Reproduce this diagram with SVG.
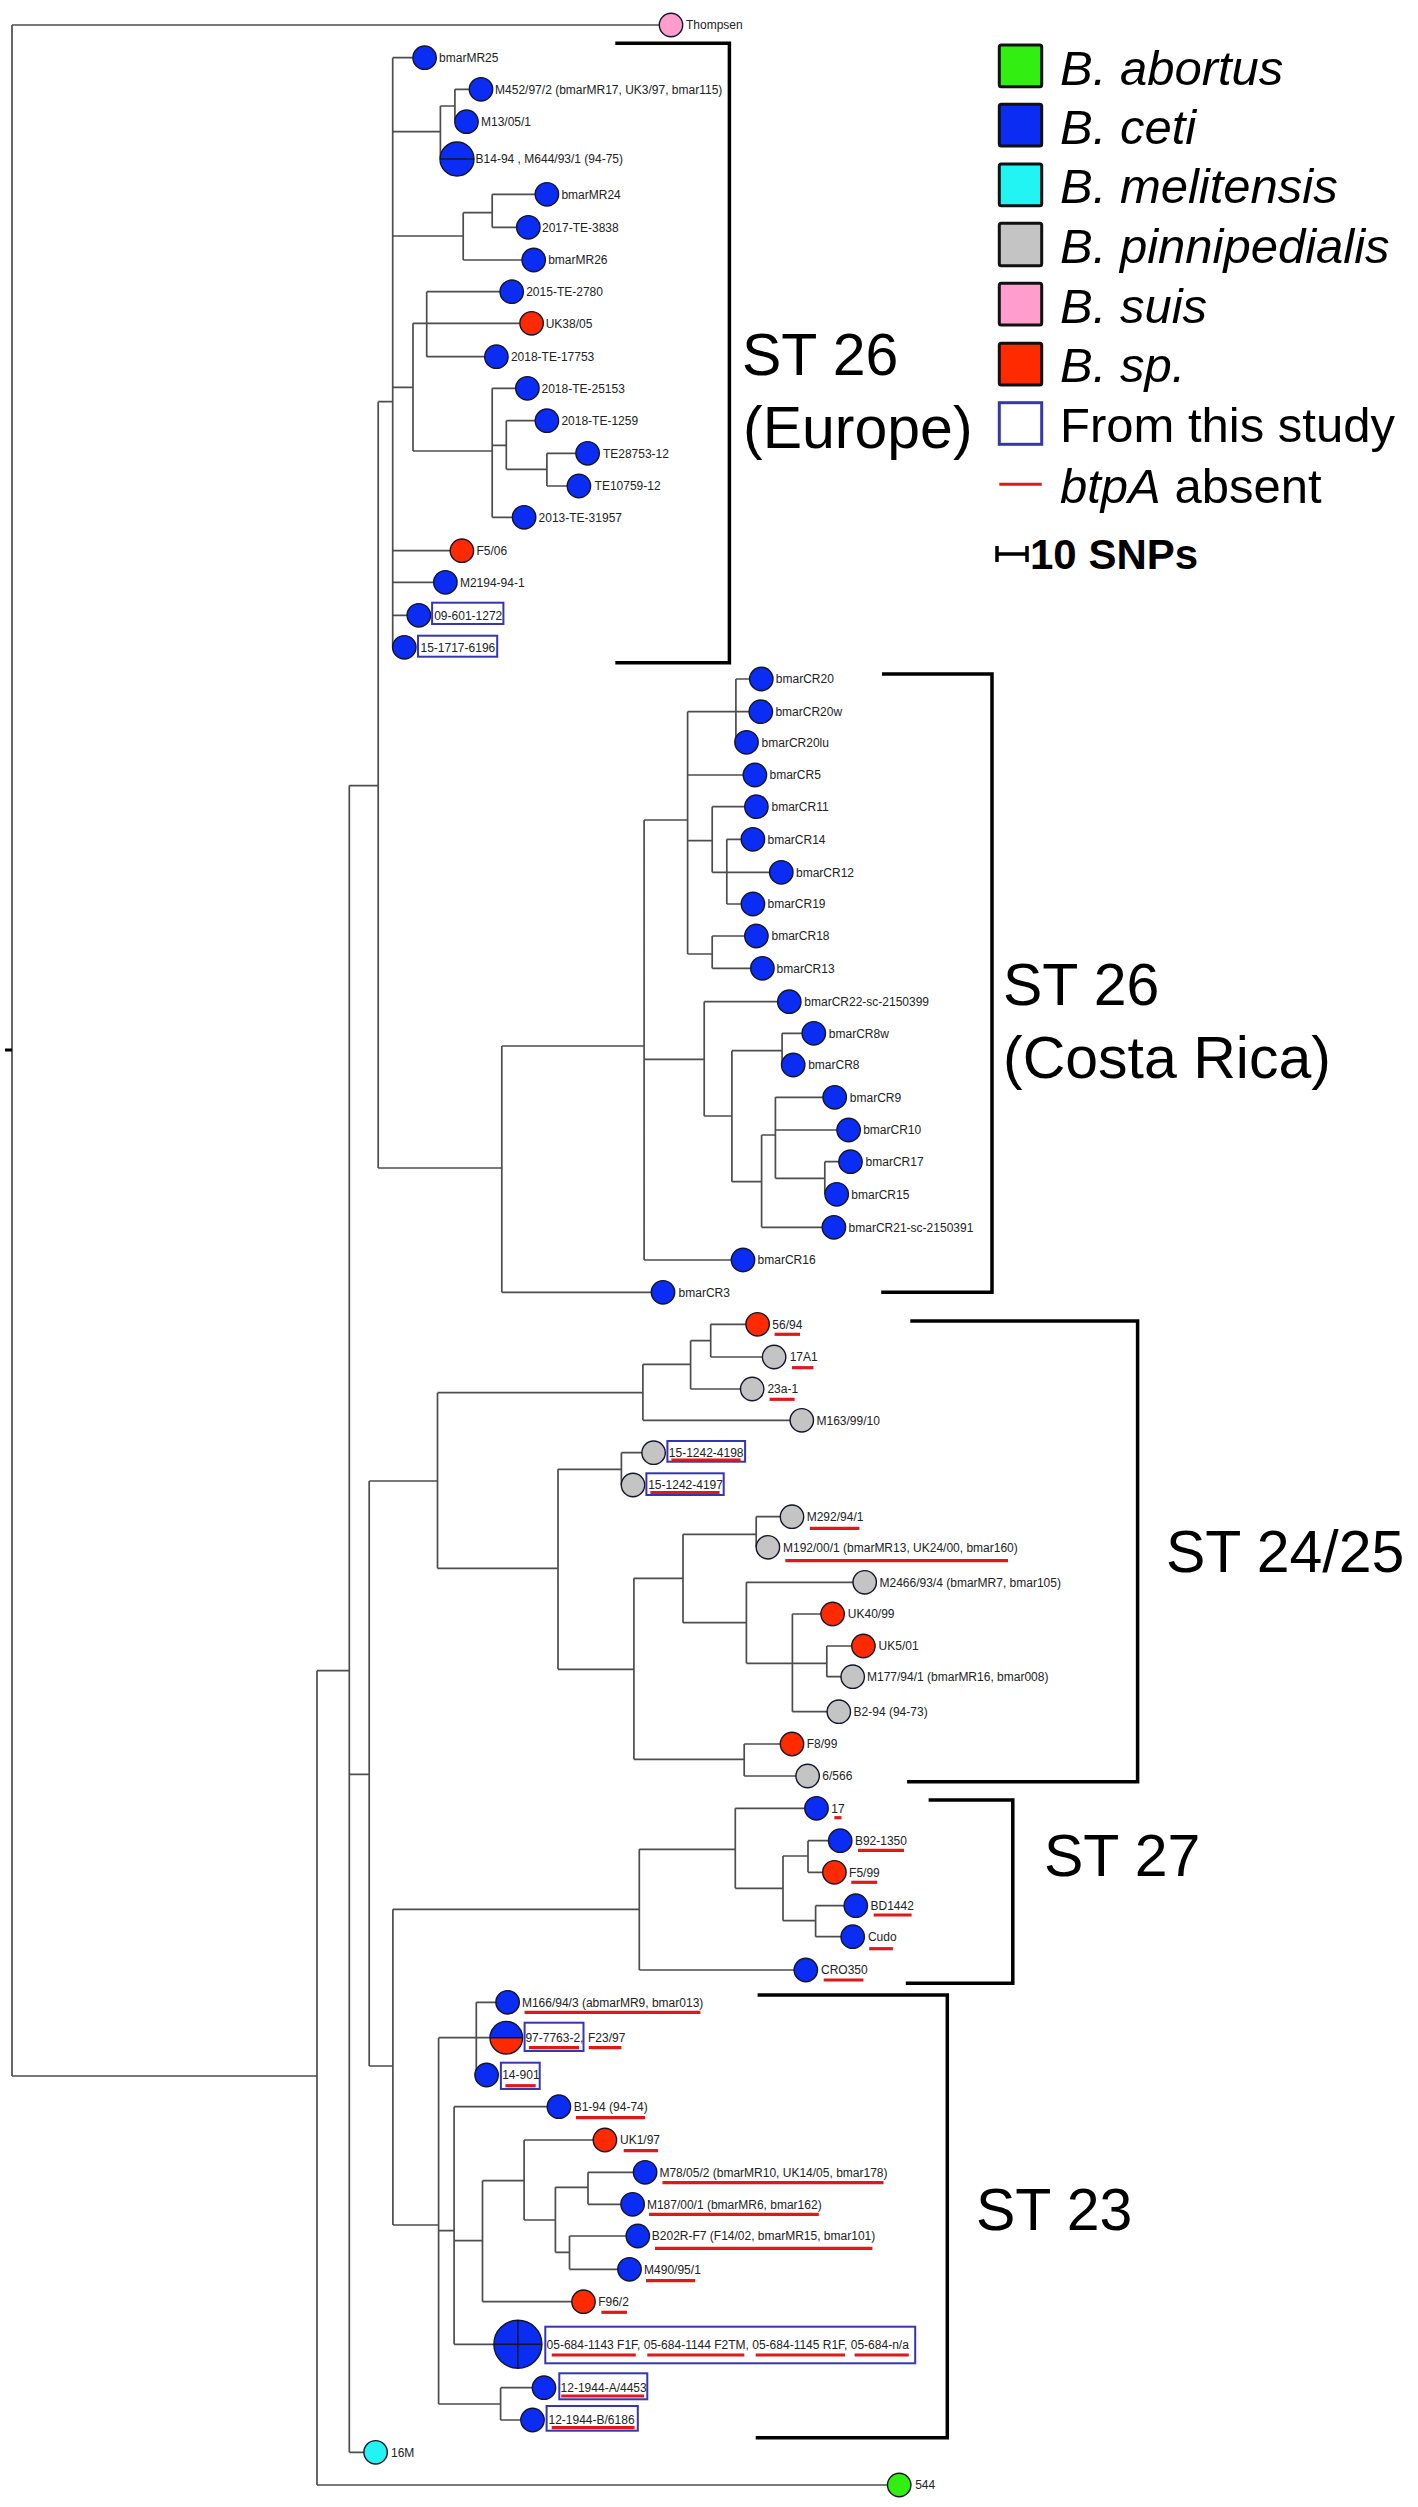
<svg xmlns="http://www.w3.org/2000/svg" width="1418" height="2507" viewBox="0 0 1418 2507">
<style>
.br{stroke:#4d4d4d;stroke-width:1.7;fill:none}
.nd{stroke:#15152a;stroke-width:1.4}
.ceti{fill:#0b2cf2}.sp{fill:#ff2a00}.pin{fill:#c4c4c4}.suis{fill:#ff9dcc}.mel{fill:#22f4f4}.abo{fill:#33ee11}
.lb{font-family:"Liberation Sans",Arial,sans-serif;font-size:12px;fill:#222}
.ul{stroke:#e01818;stroke-width:3.2}
.bx{fill:none;stroke:#3636b0;stroke-width:2}
.bk{stroke:#000;stroke-width:3.5;fill:none}
.st{font-family:"Liberation Sans",Arial,sans-serif;font-size:59px;fill:#000}
.lg{font-family:"Liberation Sans",Arial,sans-serif;font-size:49px;fill:#000}
.lbox{stroke:#111;stroke-width:3}
.dv{stroke:#15152a;stroke-width:1.4;fill:none}
</style>
<rect width="1418" height="2507" fill="#fff"/>
<g id="connectors">
<path class="br" d="M12,25 H671 M12,25 V2076 M12,2076 H317 M317,1670.7 V2485 M317,2485 H899 M317,1670.7 H349.3 M349.3,785.6 V2452.3 M349.3,2452.3 H375.6 M349.3,785.6 H378.2 M378.2,401.7 V1168 M378.2,401.7 H392.7 M392.7,57.7 V647.3"/>
<path d="M5,1050 H12" style="stroke:#000;stroke-width:3"/>
<path class="br" d="M392.7,57.7 H424.6 M392.7,131.7 H440.4 M440.4,106 V159 M440.4,106 H454.9 M454.9,89.3 V121.7 M454.9,89.3 H481 M454.9,121.7 H466.5 M440.4,159 H457 M392.7,236 H463.2 M463.2,212.7 V260 M463.2,212.7 H492.2 M492.2,194.3 V227.3 M492.2,194.3 H546.9 M492.2,227.3 H528.3 M463.2,260 H533.7 M392.7,387.3 H413 M413,323.3 V451 M413,323.3 H531.6 M426.7,291.7 V356.7 M426.7,291.7 H511.7 M426.7,356.7 H496.4 M413,451 H492.2 M492.2,388.3 V517.3 M492.2,388.3 H527.4 M492.2,445.3 H506.3 M506.3,420.7 V469.3 M506.3,420.7 H546.9 M506.3,469.3 H546.9 M546.9,453.3 V486 M546.9,453.3 H587.6 M546.9,486 H578.9 M492.2,517.3 H524.1 M392.7,550.7 H461.9 M392.7,582.3 H445.4 M392.7,615.3 H418.8 M392.7,647.3 H404.3"/>
<path class="br" d="M378.2,1168 H501.8 M501.8,1046 V1292.3 M501.8,1292.3 H663 M501.8,1046 H644.1 M644.1,820 V1260 M644.1,1260 H743 M644.1,820 H687.6 M687.6,711.7 V954 M687.6,711.7 H760.8 M735.9,679 V742.3 M735.9,679 H761.3 M735.9,742.3 H746.5 M687.6,775 H754.9 M687.6,840.7 H712.2 M712.2,806.7 V872.3 M712.2,806.7 H756.4 M712.2,872.3 H781.3 M726.8,839.3 V904 M726.8,839.3 H752.9 M726.8,904 H752.9 M687.6,954 H712.2 M712.2,936 V968.3 M712.2,936 H756.4 M712.2,968.3 H762.4 M644.1,1059.3 H704.2 M704.2,1001.7 V1116 M704.2,1001.7 H789.3 M704.2,1116 H731.9 M731.9,1050.7 V1181.7 M731.9,1050.7 H782.1 M782.1,1033.3 V1065 M782.1,1033.3 H813.8 M782.1,1065 H793.2 M731.9,1181.7 H761.6 M761.6,1135 V1227.3 M761.6,1135 H775.4 M775.4,1097.3 V1178.3 M775.4,1097.3 H834.7 M775.4,1130 H848.6 M775.4,1178.3 H824.8 M824.8,1161.7 V1194.3 M824.8,1161.7 H850.5 M824.8,1194.3 H836.7 M761.6,1227.3 H833.9"/>
<path class="br" d="M349.3,1774.3 H369.2 M369.2,1481 V2066 M369.2,1481 H437.5 M437.5,1392.7 V1568.3 M437.5,1392.7 H642.9 M642.9,1364.3 V1420.3 M642.9,1364.3 H690.6 M690.6,1340.7 V1389 M690.6,1340.7 H710.7 M710.7,1324.3 V1357 M710.7,1324.3 H757.6 M710.7,1357 H774.1 M690.6,1389 H752.2 M642.9,1420.3 H801.8 M437.5,1568.3 H558 M558,1469.3 V1669.3 M558,1469.3 H621.4 M621.4,1452.7 V1485 M621.4,1452.7 H653.6 M621.4,1485 H633 M558,1669.3 H633.9 M633.9,1578.3 V1759.3 M633.9,1578.3 H683 M683,1534.3 V1622.7 M683,1534.3 H756.2 M756.2,1516.7 V1547.3 M756.2,1516.7 H792 M756.2,1547.3 H767.9 M683,1622.7 H746.4 M746.4,1582.3 V1663.3 M746.4,1582.3 H864.7 M746.4,1663.3 H826.8 M792.4,1614 V1711.7 M792.4,1614 H832.6 M826.8,1646 V1676.7 M826.8,1646 H863.4 M826.8,1676.7 H852.7 M792.4,1711.7 H838.8 M633.9,1759.3 H744.2 M744.2,1744 V1776 M744.2,1744 H792 M744.2,1776 H807.6"/>
<path class="br" d="M369.2,2066 H392.9 M392.9,1909.3 V2225 M392.9,1909.3 H639.3 M639.3,1849.3 V1970 M639.3,1849.3 H735.3 M735.3,1808.3 V1888.3 M735.3,1808.3 H816.5 M735.3,1888.3 H783 M783,1856 V1920.7 M783,1856 H808 M808,1840.7 V1872.3 M808,1840.7 H840.2 M808,1872.3 H834.4 M783,1920.7 H815.6 M815.6,1905.7 V1936.7 M815.6,1905.7 H855.8 M815.6,1936.7 H852.7 M639.3,1970 H805.8 M392.9,2225 H438.6 M438.6,2037.7 V2404 M438.6,2037.7 H476.3 M476.3,2002.3 V2075 M476.3,2002.3 H507.6 M476.3,2037.7 H506.3 M476.3,2075 H486.6 M438.6,2230.7 H454.1 M454.1,2106.7 V2344.3 M454.1,2106.7 H558.9 M454.1,2240.7 H482.5 M482.5,2180.7 V2301.7 M482.5,2180.7 H524.1 M524.1,2140 V2220 M524.1,2140 H604.9 M524.1,2220 H555.4 M555.4,2187.3 V2252.3 M555.4,2187.3 H588 M588,2172.3 V2204.3 M588,2172.3 H645.1 M588,2204.3 H632.6 M555.4,2252.3 H569.5 M569.5,2236 V2269.3 M569.5,2236 H637.8 M569.5,2269.3 H629.5 M482.5,2301.7 H583.5 M454.1,2344.3 H517.9 M438.6,2404 H500.6 M500.6,2387.7 V2420 M500.6,2387.7 H544 M500.6,2420 H532.5"/>
</g>
<g id="n-thompsen"><circle class="nd suis" cx="671" cy="25" r="11.7"/><text class="lb" x="686" y="29.3">Thompsen</text></g>
<g id="n-bmarMR25"><circle class="nd ceti" cx="424.6" cy="57.7" r="11.7"/><text class="lb" x="439.1" y="62">bmarMR25</text></g>
<g id="n-M452"><circle class="nd ceti" cx="481" cy="89.3" r="11.7"/><text class="lb" x="495.1" y="93.6">M452/97/2 (bmarMR17, UK3/97, bmar115)</text></g>
<g id="n-M13"><circle class="nd ceti" cx="466.5" cy="121.7" r="11.7"/><text class="lb" x="481" y="126">M13/05/1</text></g>
<g id="n-B14"><circle class="nd ceti" cx="457" cy="159" r="17"/><path class="dv" d="M440,159 H474"/><text class="lb" x="475.6" y="163.3">B14-94 , M644/93/1 (94-75)</text></g>
<g id="n-bmarMR24"><circle class="nd ceti" cx="546.9" cy="194.3" r="11.7"/><text class="lb" x="561.4" y="198.6">bmarMR24</text></g>
<g id="n-2017TE3838"><circle class="nd ceti" cx="528.3" cy="227.3" r="11.7"/><text class="lb" x="542" y="231.6">2017-TE-3838</text></g>
<g id="n-bmarMR26"><circle class="nd ceti" cx="533.7" cy="260" r="11.7"/><text class="lb" x="548.2" y="264.3">bmarMR26</text></g>
<g id="n-2015TE2780"><circle class="nd ceti" cx="511.7" cy="291.7" r="11.7"/><text class="lb" x="526.2" y="296">2015-TE-2780</text></g>
<g id="n-UK3805"><circle class="nd sp" cx="531.6" cy="323.3" r="11.7"/><text class="lb" x="545.7" y="327.6">UK38/05</text></g>
<g id="n-2018TE17753"><circle class="nd ceti" cx="496.4" cy="356.7" r="11.7"/><text class="lb" x="510.9" y="361">2018-TE-17753</text></g>
<g id="n-2018TE25153"><circle class="nd ceti" cx="527.4" cy="388.3" r="11.7"/><text class="lb" x="541.5" y="392.6">2018-TE-25153</text></g>
<g id="n-2018TE1259"><circle class="nd ceti" cx="546.9" cy="420.7" r="11.7"/><text class="lb" x="561.4" y="425">2018-TE-1259</text></g>
<g id="n-TE28753"><circle class="nd ceti" cx="587.6" cy="453.3" r="11.7"/><text class="lb" x="602.9" y="457.6">TE28753-12</text></g>
<g id="n-TE10759"><circle class="nd ceti" cx="578.9" cy="486" r="11.7"/><text class="lb" x="594.6" y="490.3">TE10759-12</text></g>
<g id="n-2013TE31957"><circle class="nd ceti" cx="524.1" cy="517.3" r="11.7"/><text class="lb" x="538.6" y="521.6">2013-TE-31957</text></g>
<g id="n-F506"><circle class="nd sp" cx="461.9" cy="550.7" r="11.7"/><text class="lb" x="476.5" y="555">F5/06</text></g>
<g id="n-M2194"><circle class="nd ceti" cx="445.4" cy="582.3" r="11.7"/><text class="lb" x="459.9" y="586.6">M2194-94-1</text></g>
<g id="n-09601"><circle class="nd ceti" cx="418.8" cy="615.3" r="11.7"/><rect class="bx" x="432.1" y="602.7" width="71.3" height="21.3"/><text class="lb" x="434.2" y="619.6">09-601-1272</text></g>
<g id="n-151717"><circle class="nd ceti" cx="404.3" cy="647.3" r="11.7"/><rect class="bx" x="418" y="635.7" width="79.2" height="21"/><text class="lb" x="420.5" y="651.6">15-1717-6196</text></g>
<g id="n-CR20"><circle class="nd ceti" cx="761.3" cy="679" r="11.7"/><text class="lb" x="775.8" y="683.3">bmarCR20</text></g>
<g id="n-CR20w"><circle class="nd ceti" cx="760.8" cy="711.7" r="11.7"/><text class="lb" x="775.4" y="716">bmarCR20w</text></g>
<g id="n-CR20lu"><circle class="nd ceti" cx="746.5" cy="742.3" r="11.7"/><text class="lb" x="761.6" y="746.6">bmarCR20lu</text></g>
<g id="n-CR5"><circle class="nd ceti" cx="754.9" cy="775" r="11.7"/><text class="lb" x="769.5" y="779.3">bmarCR5</text></g>
<g id="n-CR11"><circle class="nd ceti" cx="756.4" cy="806.7" r="11.7"/><text class="lb" x="771.5" y="811">bmarCR11</text></g>
<g id="n-CR14"><circle class="nd ceti" cx="752.9" cy="839.3" r="11.7"/><text class="lb" x="767.5" y="843.6">bmarCR14</text></g>
<g id="n-CR12"><circle class="nd ceti" cx="781.3" cy="872.3" r="11.7"/><text class="lb" x="796" y="876.6">bmarCR12</text></g>
<g id="n-CR19"><circle class="nd ceti" cx="752.9" cy="904" r="11.7"/><text class="lb" x="767.5" y="908.3">bmarCR19</text></g>
<g id="n-CR18"><circle class="nd ceti" cx="756.4" cy="936" r="11.7"/><text class="lb" x="771.5" y="940.3">bmarCR18</text></g>
<g id="n-CR13"><circle class="nd ceti" cx="762.4" cy="968.3" r="11.7"/><text class="lb" x="776.6" y="972.6">bmarCR13</text></g>
<g id="n-CR22"><circle class="nd ceti" cx="789.3" cy="1001.7" r="11.7"/><text class="lb" x="804.3" y="1006">bmarCR22-sc-2150399</text></g>
<g id="n-CR8w"><circle class="nd ceti" cx="813.8" cy="1033.3" r="11.7"/><text class="lb" x="828.8" y="1037.6">bmarCR8w</text></g>
<g id="n-CR8"><circle class="nd ceti" cx="793.2" cy="1065" r="11.7"/><text class="lb" x="808.2" y="1069.3">bmarCR8</text></g>
<g id="n-CR9"><circle class="nd ceti" cx="834.7" cy="1097.3" r="11.7"/><text class="lb" x="849.8" y="1101.6">bmarCR9</text></g>
<g id="n-CR10"><circle class="nd ceti" cx="848.6" cy="1130" r="11.7"/><text class="lb" x="863.2" y="1134.3">bmarCR10</text></g>
<g id="n-CR17"><circle class="nd ceti" cx="850.5" cy="1161.7" r="11.7"/><text class="lb" x="865.6" y="1166">bmarCR17</text></g>
<g id="n-CR15"><circle class="nd ceti" cx="836.7" cy="1194.3" r="11.7"/><text class="lb" x="851.3" y="1198.6">bmarCR15</text></g>
<g id="n-CR21"><circle class="nd ceti" cx="833.9" cy="1227.3" r="11.7"/><text class="lb" x="848.6" y="1231.6">bmarCR21-sc-2150391</text></g>
<g id="n-CR16"><circle class="nd ceti" cx="743" cy="1260" r="11.7"/><text class="lb" x="757.6" y="1264.3">bmarCR16</text></g>
<g id="n-CR3"><circle class="nd ceti" cx="663" cy="1292.3" r="11.7"/><text class="lb" x="678.6" y="1296.6">bmarCR3</text></g>
<g id="n-5694"><circle class="nd sp" cx="757.6" cy="1324.3" r="11.7"/><text class="lb" x="772.3" y="1328.6">56/94</text><line class="ul" x1="774.6" y1="1334.3" x2="800" y2="1334.3"/></g>
<g id="n-17A1"><circle class="nd pin" cx="774.1" cy="1357" r="11.7"/><text class="lb" x="789.7" y="1361.3">17A1</text><line class="ul" x1="792" y1="1367.7" x2="813.4" y2="1367.7"/></g>
<g id="n-23a1"><circle class="nd pin" cx="752.2" cy="1389" r="11.7"/><text class="lb" x="767.4" y="1393.3">23a-1</text><line class="ul" x1="769.6" y1="1399.3" x2="794.6" y2="1399.3"/></g>
<g id="n-M163"><circle class="nd pin" cx="801.8" cy="1420.3" r="11.7"/><text class="lb" x="816.5" y="1424.6">M163/99/10</text></g>
<g id="n-4198"><circle class="nd pin" cx="653.6" cy="1452.7" r="11.7"/><rect class="bx" x="667.4" y="1441" width="77.7" height="20.7"/><text class="lb" x="668.8" y="1457">15-1242-4198</text><line class="ul" x1="671.4" y1="1460" x2="740.6" y2="1460"/></g>
<g id="n-4197"><circle class="nd pin" cx="633" cy="1485" r="11.7"/><rect class="bx" x="646.4" y="1473.3" width="77.3" height="21.7"/><text class="lb" x="648.2" y="1489.3">15-1242-4197</text><line class="ul" x1="650.4" y1="1492.5" x2="719.6" y2="1492.5"/></g>
<g id="n-M292"><circle class="nd pin" cx="792" cy="1516.7" r="11.7"/><text class="lb" x="806.7" y="1521">M292/94/1</text><line class="ul" x1="809.8" y1="1528.3" x2="859.4" y2="1528.3"/></g>
<g id="n-M192"><circle class="nd pin" cx="767.9" cy="1547.3" r="11.7"/><text class="lb" x="783" y="1551.6">M192/00/1 (bmarMR13, UK24/00, bmar160)</text><line class="ul" x1="785.3" y1="1560.7" x2="1008" y2="1560.7"/></g>
<g id="n-M2466"><circle class="nd pin" cx="864.7" cy="1582.3" r="11.7"/><text class="lb" x="879.5" y="1586.6">M2466/93/4 (bmarMR7, bmar105)</text></g>
<g id="n-UK4099"><circle class="nd sp" cx="832.6" cy="1614" r="11.7"/><text class="lb" x="847.8" y="1618.3">UK40/99</text></g>
<g id="n-UK501"><circle class="nd sp" cx="863.4" cy="1646" r="11.7"/><text class="lb" x="878.6" y="1650.3">UK5/01</text></g>
<g id="n-M177"><circle class="nd pin" cx="852.7" cy="1676.7" r="11.7"/><text class="lb" x="867" y="1681">M177/94/1 (bmarMR16, bmar008)</text></g>
<g id="n-B294"><circle class="nd pin" cx="838.8" cy="1711.7" r="11.7"/><text class="lb" x="853.6" y="1716">B2-94 (94-73)</text></g>
<g id="n-F899"><circle class="nd sp" cx="792" cy="1744" r="11.7"/><text class="lb" x="806.7" y="1748.3">F8/99</text></g>
<g id="n-6566"><circle class="nd pin" cx="807.6" cy="1776" r="11.7"/><text class="lb" x="822.3" y="1780.3">6/566</text></g>
<g id="n-17"><circle class="nd ceti" cx="816.5" cy="1808.3" r="11.7"/><text class="lb" x="831.3" y="1812.6">17</text><line class="ul" x1="834.4" y1="1817.7" x2="841.5" y2="1817.7"/></g>
<g id="n-B921350"><circle class="nd ceti" cx="840.2" cy="1840.7" r="11.7"/><text class="lb" x="854.9" y="1845">B92-1350</text><line class="ul" x1="858" y1="1850.3" x2="904" y2="1850.3"/></g>
<g id="n-F599"><circle class="nd sp" cx="834.4" cy="1872.3" r="11.7"/><text class="lb" x="849.1" y="1876.6">F5/99</text><line class="ul" x1="851.3" y1="1882.3" x2="877.2" y2="1882.3"/></g>
<g id="n-BD1442"><circle class="nd ceti" cx="855.8" cy="1905.7" r="11.7"/><text class="lb" x="870.5" y="1910">BD1442</text><line class="ul" x1="873.7" y1="1915" x2="911.6" y2="1915"/></g>
<g id="n-Cudo"><circle class="nd ceti" cx="852.7" cy="1936.7" r="11.7"/><text class="lb" x="867.9" y="1941">Cudo</text><line class="ul" x1="869.2" y1="1948.7" x2="892.9" y2="1948.7"/></g>
<g id="n-CRO350"><circle class="nd ceti" cx="805.8" cy="1970" r="11.7"/><text class="lb" x="821" y="1974.3">CRO350</text><line class="ul" x1="823.7" y1="1980" x2="863.4" y2="1980"/></g>
<g id="n-M166"><circle class="nd ceti" cx="507.6" cy="2002.3" r="11.7"/><text class="lb" x="521.9" y="2006.6">M166/94/3 (abmarMR9, bmar013)</text><line class="ul" x1="524.6" y1="2012.3" x2="700.4" y2="2012.3"/></g>
<g id="n-977763"><path class="ceti" d="M490,2037.7 A16.3,16.3 0 0 1 522.6,2037.7 Z"/><path class="sp" d="M490,2037.7 A16.3,16.3 0 0 0 522.6,2037.7 Z"/><circle class="dv" cx="506.3" cy="2037.7" r="16.3"/><path class="dv" d="M490,2037.7 H522.6"/><rect class="bx" x="524.6" y="2022.7" width="58.9" height="28.3"/><text class="lb" x="525.4" y="2042">97-7763-2,</text><text class="lb" x="588" y="2042">F23/97</text><line class="ul" x1="529" y1="2047.7" x2="579" y2="2047.7"/><line class="ul" x1="588.8" y1="2047.7" x2="621.4" y2="2047.7"/></g>
<g id="n-14901"><circle class="nd ceti" cx="486.6" cy="2075" r="11.7"/><rect class="bx" x="500.9" y="2062.7" width="38.8" height="26.3"/><text class="lb" x="502.2" y="2079.3">14-901</text><line class="ul" x1="505.4" y1="2085.7" x2="535.7" y2="2085.7"/></g>
<g id="n-B194"><circle class="nd ceti" cx="558.9" cy="2106.7" r="11.7"/><text class="lb" x="573.7" y="2111">B1-94 (94-74)</text><line class="ul" x1="575.9" y1="2117.7" x2="645.1" y2="2117.7"/></g>
<g id="n-UK197"><circle class="nd sp" cx="604.9" cy="2140" r="11.7"/><text class="lb" x="620" y="2144.3">UK1/97</text><line class="ul" x1="623.7" y1="2150.7" x2="658" y2="2150.7"/></g>
<g id="n-M78"><circle class="nd ceti" cx="645.1" cy="2172.3" r="11.7"/><text class="lb" x="659.4" y="2176.6">M78/05/2 (bmarMR10, UK14/05, bmar178)</text><line class="ul" x1="662.5" y1="2182.7" x2="883.5" y2="2182.7"/></g>
<g id="n-M187"><circle class="nd ceti" cx="632.6" cy="2204.3" r="11.7"/><text class="lb" x="646.9" y="2208.6">M187/00/1 (bmarMR6, bmar162)</text><line class="ul" x1="649.1" y1="2214.3" x2="818.8" y2="2214.3"/></g>
<g id="n-B202R"><circle class="nd ceti" cx="637.8" cy="2236" r="11.7"/><text class="lb" x="651.8" y="2240.3">B202R-F7 (F14/02, bmarMR15, bmar101)</text><line class="ul" x1="655" y1="2248.3" x2="872.4" y2="2248.3"/></g>
<g id="n-M490"><circle class="nd ceti" cx="629.5" cy="2269.3" r="11.7"/><text class="lb" x="644.1" y="2273.6">M490/95/1</text><line class="ul" x1="646" y1="2280.7" x2="695.2" y2="2280.7"/></g>
<g id="n-F962"><circle class="nd sp" cx="583.5" cy="2301.7" r="11.7"/><text class="lb" x="598.2" y="2306">F96/2</text><line class="ul" x1="601.4" y1="2312.3" x2="626.9" y2="2312.3"/></g>
<g id="n-05684"><circle class="nd ceti" cx="517.9" cy="2344.3" r="24"/><path class="dv" d="M493.9,2344.3 H541.9 M517.9,2320.3 V2368.3"/><rect class="bx" x="545.3" y="2326.7" width="369.9" height="36.6"/><text class="lb" x="546.6" y="2348.6">05-684-1143 F1F, 05-684-1144 F2TM, 05-684-1145 R1F, 05-684-n/a</text><line class="ul" x1="551.7" y1="2355" x2="635.8" y2="2355"/><line class="ul" x1="647.3" y1="2355" x2="744.3" y2="2355"/><line class="ul" x1="755.7" y1="2355" x2="845" y2="2355"/><line class="ul" x1="854.6" y1="2355" x2="908.8" y2="2355"/></g>
<g id="n-1944A"><circle class="nd ceti" cx="544" cy="2387.7" r="11.7"/><rect class="bx" x="559.3" y="2373.3" width="88" height="26"/><text class="lb" x="560.6" y="2392">12-1944-A/4453</text><line class="ul" x1="561.2" y1="2396" x2="644.1" y2="2396"/></g>
<g id="n-1944B"><circle class="nd ceti" cx="532.5" cy="2420" r="11.7"/><rect class="bx" x="546.6" y="2406" width="91.2" height="24.7"/><text class="lb" x="548.5" y="2424.3">12-1944-B/6186</text><line class="ul" x1="551.7" y1="2427.7" x2="634.6" y2="2427.7"/></g>
<g id="n-16M"><circle class="nd mel" cx="375.6" cy="2452.3" r="11.7"/><text class="lb" x="391" y="2456.6">16M</text></g>
<g id="n-544"><circle class="nd abo" cx="899.2" cy="2485" r="11.7"/><text class="lb" x="915.2" y="2489.3">544</text></g>
<g id="brackets">
<path class="bk" d="M615.3,43.3 H729.4 V662.7 H615.3"/>
<path class="bk" d="M882,674 H992 V1292.3 H881.2"/>
<path class="bk" d="M910.3,1321 H1137.6 V1781.7 H907.1"/>
<path class="bk" d="M928.6,1800 H1012.8 V1983.3 H905.8"/>
<path class="bk" d="M757.6,1995 H947.3 V2437.7 H755.7"/>
</g>
<g id="st-labels">
<text class="st" x="742" y="375">ST 26</text>
<text class="st" x="743" y="448.3">(Europe)</text>
<text class="st" x="1003" y="1004.5">ST 26</text>
<text class="st" x="1003" y="1078">(Costa Rica)</text>
<text class="st" x="1166" y="1572">ST 24/25</text>
<text class="st" x="1044" y="1876">ST 27</text>
<text class="st" x="976" y="2230">ST 23</text>
</g>
<g id="legend">
<rect class="lbox abo" x="999.3" y="45" width="42.4" height="41.7" rx="2"/>
<rect class="lbox ceti" x="999.3" y="104.3" width="42.4" height="41.7" rx="2"/>
<rect class="lbox mel" x="999.3" y="164" width="42.4" height="41.7" rx="2"/>
<rect class="lbox pin" x="999.3" y="223.3" width="42.4" height="42.4" rx="2"/>
<rect class="lbox suis" x="999.3" y="283.3" width="42.4" height="41.7" rx="2"/>
<rect class="lbox sp" x="999.3" y="343.3" width="42.4" height="41.7" rx="2"/>
<rect x="999.3" y="402.7" width="42.4" height="41.6" fill="none" stroke="#3636b0" stroke-width="3"/>
<line x1="999.3" y1="484.3" x2="1041.7" y2="484.3" stroke="#e01818" stroke-width="3"/>
<text class="lg" x="1060" y="85" font-style="italic">B. abortus</text>
<text class="lg" x="1060" y="144" font-style="italic">B. ceti</text>
<text class="lg" x="1060" y="203.3" font-style="italic">B. melitensis</text>
<text class="lg" x="1060" y="262.7" font-style="italic">B. pinnipedialis</text>
<text class="lg" x="1060" y="322.7" font-style="italic">B. suis</text>
<text class="lg" x="1060" y="381.7" font-style="italic">B. sp.</text>
<text class="lg" x="1060" y="441.7">From this study</text>
<text class="lg" x="1060" y="503.3"><tspan font-style="italic">btpA</tspan> absent</text>
<path d="M997,546 V562 M997,554 H1027 M1027,546 V562" stroke="#000" stroke-width="3.5" fill="none"/>
<text x="1030" y="569" font-family="'Liberation Sans',Arial,sans-serif" font-size="42" font-weight="bold">10 SNPs</text>
</g>
</svg>
